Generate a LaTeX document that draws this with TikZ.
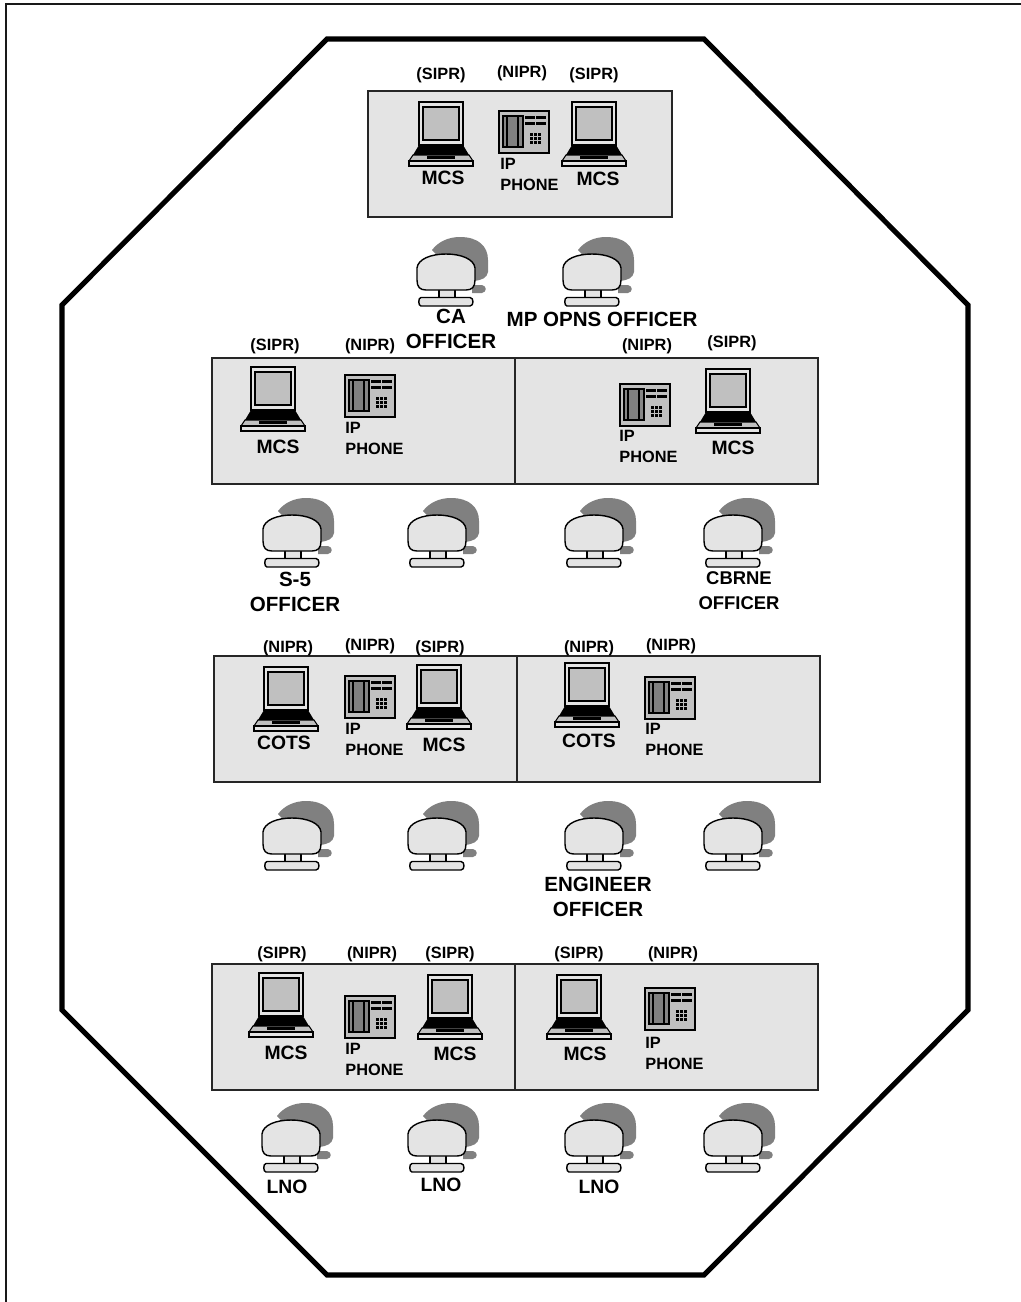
\documentclass[tikz,border=0pt]{standalone}
\usepackage{fontspec}
\setmainfont{Liberation Sans}
\usepackage{xcolor}
\usetikzlibrary{positioning}
\definecolor{panelgray}{HTML}{E4E4E4}
\definecolor{screengray}{HTML}{C0C0C0}
\definecolor{shadowgray}{HTML}{808080}
\tikzset{
  nettag/.style={font=\bfseries\fontsize{9.3}{11}\selectfont, inner sep=0pt},
  iplabel/.style={font=\bfseries\fontsize{9.3}{12}\selectfont, inner sep=0pt, align=left, anchor=north west},
  caption/.style={font=\bfseries\fontsize{11}{14}\selectfont, inner sep=0pt, align=center},
  seatcap/.style={font=\bfseries\fontsize{11.7}{14.2}\selectfont, inner sep=0pt, align=center},
  panel/.style={draw=black!85, fill=panelgray, line width=0.6pt},
  pics/laptop/.style={code={
    \draw[fill=panelgray, line width=0.8pt] (-22,0) rectangle (22,43);
    \draw[fill=screengray, line width=0.7pt] (-18,5) rectangle (18,38);
    \fill[black] (-22,43) -- (22,43) -- (28,53) -- (-28,53) -- cycle;
    \draw[fill=screengray, line width=0.6pt] (-28,53) -- (28,53) -- (32,59) -- (-32,59) -- cycle;
    \fill[black] (-14,54) rectangle (14,56.5);
    \draw[fill=panelgray, line width=0.8pt] (-32,59) rectangle (32,64);
  }},
  pics/phone/.style={code={
    \draw[fill=screengray, line width=0.8pt] (0,0) rectangle (50,42);
    \draw[fill=screengray!70!black, line width=0.6pt] (4,5) -- (24,5) -- (24,36) -- (4,36) -- cycle;
    \draw[fill=shadowgray, line width=0.8pt] (8,5) rectangle (19,36);
    \foreach \bx in {26,37} \foreach \by in {5,10.5} {
      \fill[black] (\bx,\by) rectangle ++(10,3);
    }
    \foreach \kx in {31,35,39} \foreach \ky in {22,26,30} {
      \fill[black] (\kx,\ky) rectangle ++(2.6,2.6);
    }
  }},
  pics/seat/.style={code={
    \fill[shadowgray] (-14,-4) .. controls (-8,-12) and (2,-17) .. (14,-17)
      .. controls (32,-17) and (42,-8) .. (42,6) -- (42,18)
      .. controls (41,24) and (36,26) .. (28,27) -- (10,20) -- cycle;
    \fill[shadowgray] (26,31) -- (36,31) .. controls (41,32) and (41,38) .. (36,39) -- (26,39) -- cycle;
    \draw[fill=panelgray, line width=0.8pt] (-7,34) rectangle (9,44);
    \draw[fill=panelgray, line width=0.8pt] (-29,14) .. controls (-28,5) and (-15,0) .. (0,0)
      .. controls (15,0) and (28,5) .. (29,14) -- (29,26)
      .. controls (29,33) and (26,36) .. (20,36) -- (-20,36)
      .. controls (-26,36) and (-29,33) .. (-29,26) -- cycle;
    \draw[fill=panelgray, line width=0.8pt] (-25,43.5) .. controls (-28,43.5) and (-28,52) .. (-25,52)
      -- (24,52) .. controls (28,52) and (28,43.5) .. (24,43.5) -- cycle;
  }}
}
\begin{document}
\begin{tikzpicture}[x=0.02cm, y=-0.02cm]
  \useasboundingbox (0,0) rectangle (1021,1302);
  % page edge and octagon
  \draw[line width=1.4pt, black!90] (6,1302) -- (6,4) -- (1021,4);
  \draw[line width=2.9pt, line join=miter] (327,39) -- (704,39) -- (968,305) -- (968,1010)
    -- (704,1275) -- (327,1275) -- (62,1010) -- (62,305) -- cycle;

  % panels
  \draw[panel] (368,91) rectangle (672,217);
  \foreach \xa/\ya/\xm/\xb/\yb in {212/358/515/818/484, 214/656/517/820/782, 212/964/515/818/1090} {
    \draw[panel] (\xa,\ya) rectangle (\xb,\yb);
    \draw[panel] (\xm,\ya) -- (\xm,\yb);
  }

  \foreach \px/\py in {441/102, 594/102, 273/367, 728/369, 286/667, 439/665, 587/663, 281/973, 450/975, 579/975} {
    \pic at (\px,\py) {laptop};
  }
  \foreach \px/\py in {499/111, 345/375, 620/384, 345/676, 645/677, 345/996, 645/988} {
    \pic at (\px,\py) {phone};
  }
  \foreach \px/\py in {446/254, 592/254, 292/515, 437/515, 594/515, 733/515,
                       292/818, 437/818, 594/818, 733/818, 291/1120, 437/1120, 594/1120, 733/1120} {
    \pic at (\px,\py) {seat};
  }

  % network tags
  \foreach \n/\tx/\ty/\lab in {a/441/75/SIPR, b/522/73/NIPR, c/594/75/SIPR,
      d/275/346/SIPR, e/370/346/NIPR, f/647/346/NIPR, g/732/343/SIPR,
      h/288/648/NIPR, i/370/646/NIPR, j/440/648/SIPR, k/589/648/NIPR, l/671/646/NIPR,
      m/282/954/SIPR, n/372/954/NIPR, o/450/954/SIPR, p/579/954/SIPR, q/673/954/NIPR} {
    \node[nettag] (tag\n) at (\tx,\ty) {(\lab)};
  }
  % IP phone captions
  \foreach \n/\tx/\ty in {a/500/158, b/345/422, c/619/430, d/345/723, e/645/723, f/345/1043, g/645/1037} {
    \node[iplabel] (ip\n) at (\tx,\ty) {IP\\PHONE};
  }
  % machine captions
  \foreach \n/\tx/\ty/\lab in {a/443/178/MCS, b/598/179/MCS, c/278/447/MCS, d/733/448/MCS,
      e/284/743/COTS, f/444/745/MCS, g/589/741/COTS, h/286/1053/MCS, i/455/1054/MCS, j/585/1054/MCS} {
    \node[caption] (cap\n) at (\tx,\ty) {\lab};
  }
  % seat captions
  \node[seatcap] (caoff) at (451,329) {CA\\OFFICER};
  \node[seatcap] (mpoff) at (602,319) {MP OPNS OFFICER};
  \node[seatcap] (sfive) at (295,592) {S-5\\OFFICER};
  \node[caption, font=\bfseries\fontsize{10.5}{14.2}\selectfont] (cbrne) at (739,591) {CBRNE\\OFFICER};
  \node[seatcap] (engin) at (598,897) {ENGINEER\\OFFICER};
  \foreach \n/\tx/\ty in {a/287/1187, b/441/1185, c/599/1187} {
    \node[caption] (lno\n) at (\tx,\ty) {LNO};
  }
\end{tikzpicture}
\end{document}
